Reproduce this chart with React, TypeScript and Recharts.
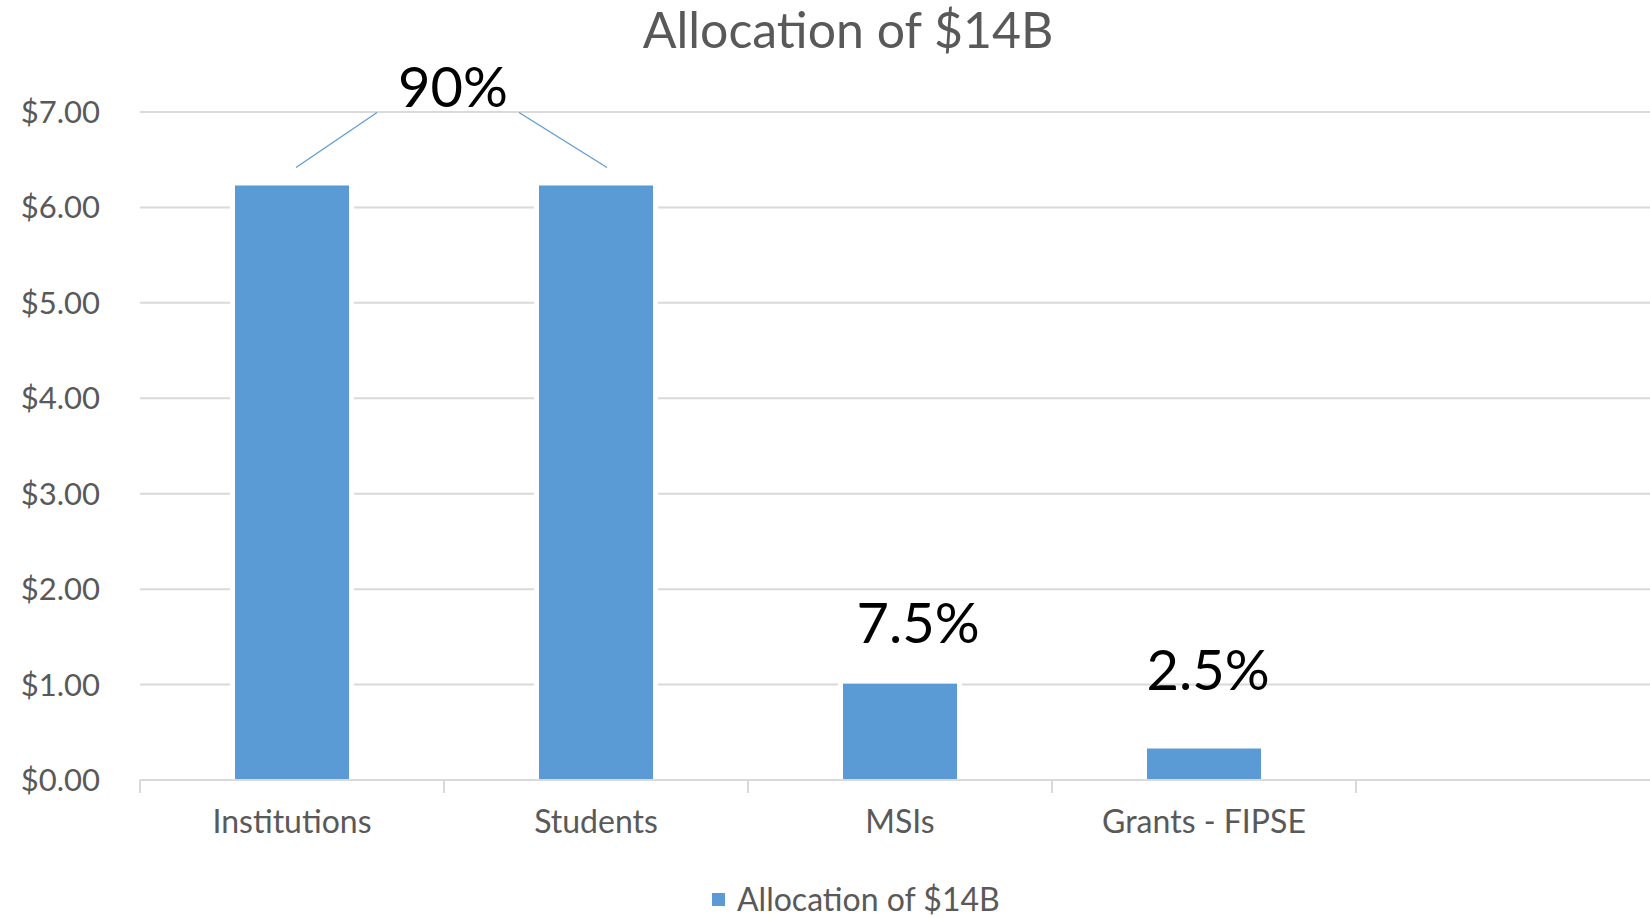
import { BarChart, Bar, XAxis, YAxis, CartesianGrid, Legend, LabelList } from "recharts";

const CATEGORIES = ["Institutions", "Students", "MSIs", "Grants - FIPSE", ""];
const AMOUNTS = [6.23, 6.23, 1.01, 0.33, null];
const SHARE_LABELS = ["90%", "", "7.5%", "2.5%", ""];
const Y_TICKS = [0, 1, 2, 3, 4, 5, 6, 7];
const SERIES_NAME = "Allocation of $14B";
const TITLE = "Allocation of $14B";

const rows = CATEGORIES.map((name, i) => ({ name, amount: AMOUNTS[i], share: SHARE_LABELS[i] }));

const FONT = "Lato, 'Open Sans', sans-serif";
const BLUE = "#5b9bd5";
const GRID = "#d9d9d9";
const TEXT = "#595959";

const CHART_W = 1660;
const CHART_H = 918;
const Y_AXIS_W = 140;
const BAND = (CHART_W - Y_AXIS_W) / CATEGORIES.length;

// data labels were dragged by hand in the original, so place them relative to the bar top
const LABEL_POS: { dx?: number; dy?: number; leader?: number[] }[] = [
  { dx: 161, dy: -78, leader: [4, -18, 85, -73] },
  { leader: [11, -18, -77, -73] },
  { dx: 18, dy: -41 },
  { dx: 4, dy: -59 },
];

function ShareLabel(props: any) {
  const vb = props.viewBox ?? props;
  const pos = LABEL_POS[props.index];
  if (!pos || vb == null || vb.x == null) return null;
  const cx = Number(vb.x) + Number(vb.width) / 2;
  const top = Number(vb.y);
  const text = SHARE_LABELS[props.index];
  return (
    <g>
      {pos.leader && (
        <line
          x1={cx + pos.leader[0]}
          y1={top + pos.leader[1]}
          x2={cx + pos.leader[2]}
          y2={top + pos.leader[3]}
          stroke={BLUE}
          strokeWidth={1.2}
        />
      )}
      {text && (
        <text x={cx + (pos.dx ?? 0)} y={top + (pos.dy ?? 0)} textAnchor="middle" fontSize={56} fontFamily={FONT} fill="#000">
          {text}
        </text>
      )}
    </g>
  );
}

// bar with a white halo, like excel draws it over the gridlines
function PaddedBar(props: any) {
  const { x, y, width, height, fill } = props;
  if (!height || height <= 0) return null;
  return (
    <g>
      <rect x={x - 5} y={y - 4} width={width + 10} height={height + 4} fill="#fff" />
      <rect x={x} y={y} width={width} height={height} fill={fill} />
    </g>
  );
}

// category label + tick mark at the left edge of the band
function CategoryTick(props: any) {
  const { x, y, payload } = props;
  return (
    <g>
      <line x1={x - BAND / 2} x2={x - BAND / 2} y1={y} y2={y + 13} stroke={GRID} strokeWidth={2} />
      <text x={x} y={y + 53} textAnchor="middle" fontSize={32} fontFamily={FONT} fill={TEXT}>
        {payload.value}
      </text>
    </g>
  );
}

function LegendContent(props: any) {
  const item = props.payload?.[0];
  return (
    <div style={{ display: "flex", alignItems: "center", fontSize: 32, lineHeight: "28px", height: 28, color: TEXT, fontFamily: FONT }}>
      <span style={{ display: "inline-block", width: 13, height: 13, background: item?.color ?? BLUE, marginRight: 12 }} />
      <span>{item?.value ?? SERIES_NAME}</span>
    </div>
  );
}

export default function App() {
  return (
    <div style={{ position: "absolute", left: 0, top: 0, width: 1650, height: 918, overflow: "hidden", background: "#fff" }}>
      <BarChart width={CHART_W} height={CHART_H} data={rows} margin={{ top: 112, right: 0, bottom: 78, left: 0 }}>
        <CartesianGrid vertical={false} stroke={GRID} strokeWidth={2} />
        <XAxis
          dataKey="name"
          interval={0}
          height={60}
          tickSize={0}
          tickMargin={0}
          tickLine={false}
          axisLine={{ stroke: GRID, strokeWidth: 2 }}
          tick={<CategoryTick />}
        />
        <YAxis
          width={Y_AXIS_W}
          domain={[0, 7]}
          ticks={Y_TICKS}
          tickSize={0}
          tickMargin={40}
          axisLine={false}
          tickLine={false}
          tickFormatter={(v: number) => `$${v.toFixed(2)}`}
          tick={{ fill: TEXT, fontSize: 31, fontFamily: FONT }}
        />
        <Legend
          verticalAlign="middle"
          align="center"
          layout="horizontal"
          content={<LegendContent />}
          wrapperStyle={{ top: 885, left: 712, width: 420, height: 28 }}
        />
        <Bar dataKey="amount" name={SERIES_NAME} fill={BLUE} barSize={114} shape={<PaddedBar />} isAnimationActive={false}>
          <LabelList dataKey="share" content={<ShareLabel />} />
        </Bar>
      </BarChart>
      <svg style={{ position: "absolute", left: 0, top: 0 }} width={1650} height={70}>
        <text x={848} y={48} textAnchor="middle" fontSize={50} fontFamily={FONT} fill={TEXT}>
          {TITLE}
        </text>
      </svg>
    </div>
  );
}
